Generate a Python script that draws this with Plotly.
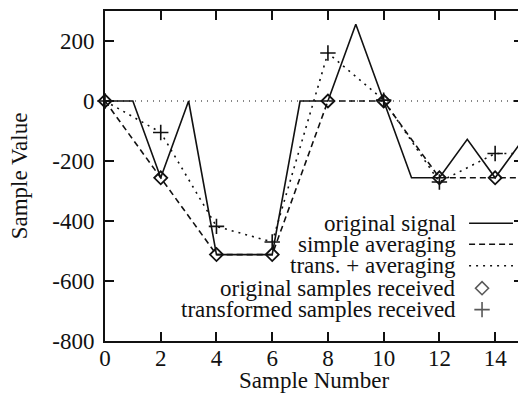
import plotly.graph_objects as go

# ---- data ----
signal_x = list(range(16))
signal_y = [0, 0, -256, 0, -512, -512, -512, 0, 0, 256, 0, -256, -256, -128, -256, -128]

recv_x = [0, 2, 4, 6, 8, 10, 12, 14]
orig_received = [0, -256, -512, -512, 0, 0, -256, -256]
trans_received = [0, -105, -418, -470, 160, 3, -270, -175]

avg_x = [0, 2, 4, 6, 8, 10, 12, 14, 15]
simple_avg = [0, -256, -512, -512, 0, 0, -256, -256, -256]
trans_avg = [0, -105, -418, -470, 160, 3, -270, -175, -175]

x_ticks = [0, 2, 4, 6, 8, 10, 12, 14]
y_ticks = [-800, -600, -400, -200, 0, 200]
y_tick_labels = ["-800", "-600", "-400", "-200", "0", "200"]

legend_labels = ["original signal", "simple averaging", "trans. + averaging",
                 "original samples received", "transformed samples received"]

FONT = "Liberation Serif, Times New Roman, serif"
FS = 23
BLACK = "#111"

fig = go.Figure()

# zero axis (dotted)
fig.add_shape(type="line", xref="x", yref="y", x0=0, x1=15, y0=0, y1=0,
              line=dict(color=BLACK, width=1, dash="1px,5px"), layer="below")

fig.add_trace(go.Scatter(x=signal_x, y=signal_y, mode="lines",
                         line=dict(color=BLACK, width=1.6), showlegend=False))
fig.add_trace(go.Scatter(x=avg_x, y=simple_avg, mode="lines",
                         line=dict(color=BLACK, width=1.6, dash="6px,4px"), showlegend=False))
fig.add_trace(go.Scatter(x=avg_x, y=trans_avg, mode="lines",
                         line=dict(color=BLACK, width=1.6, dash="2px,5px"), showlegend=False))
fig.add_trace(go.Scatter(x=recv_x, y=orig_received, mode="markers", cliponaxis=False,
                         marker=dict(symbol="diamond-open", size=10, color=BLACK,
                                     line=dict(width=1.8, color=BLACK)), showlegend=False))
fig.add_trace(go.Scatter(x=recv_x, y=trans_received, mode="markers", cliponaxis=False,
                         marker=dict(symbol="cross-thin-open", size=11, color=BLACK,
                                     line=dict(width=1.6, color=BLACK)), showlegend=False))

# ---- legend (text left, sample right, gnuplot-style) ----
row_y = [0.357, 0.293, 0.228, 0.160, 0.095]
text_x = 0.841
sample_x0, sample_x1 = 0.871, 0.976
sample_mid = 0.902
styles = [None, "6px,4px", "2px,5px"]
for i, lab in enumerate(legend_labels):
    fig.add_annotation(x=text_x, y=row_y[i], xref="paper", yref="paper", text=lab,
                       showarrow=False, xanchor="right", yanchor="middle", borderpad=0,
                       font=dict(family=FONT, size=FS, color=BLACK))
for i in range(3):
    fig.add_shape(type="line", xref="paper", yref="paper", x0=sample_x0, x1=sample_x1,
                  y0=row_y[i], y1=row_y[i],
                  line=dict(color=BLACK, width=1.6, dash=styles[i] or "solid"))
fig.add_trace(go.Scatter(x=[sample_mid, sample_mid], y=[row_y[3], row_y[4]], xaxis="x2", yaxis="y2",
                         mode="markers", showlegend=False, cliponaxis=False,
                         marker=dict(symbol=["diamond-open", "cross-thin-open"], size=[10, 11],
                                     color=BLACK, line=dict(width=1.6, color=BLACK))))

# axis titles
fig.add_annotation(x=0.5, y=-0.121, xref="paper", yref="paper", text="Sample Number",
                   showarrow=False, xanchor="center", yanchor="middle", borderpad=0,
                   font=dict(family=FONT, size=FS, color=BLACK))
fig.add_annotation(x=-0.205, y=0.5, xref="paper", yref="paper", text="Sample Value",
                   showarrow=False, textangle=-90, xanchor="center", yanchor="middle",
                   font=dict(family=FONT, size=FS, color=BLACK))

axis_common = dict(showline=True, linecolor=BLACK, linewidth=2, mirror="allticks",
                   ticks="inside", ticklen=9, tickwidth=1.5, tickcolor=BLACK,
                   showgrid=False, zeroline=False,
                   tickfont=dict(family=FONT, size=FS, color=BLACK))

# page body has an 8px default margin, so the figure is 8px smaller in each direction
fig.update_layout(
    width=518, height=389,
    margin=dict(l=97, r=1, t=2, b=56),
    paper_bgcolor="white", plot_bgcolor="white",
    font=dict(family=FONT, size=FS, color=BLACK),
    xaxis=dict(range=[0, 15], tickvals=x_ticks, ticklabelstandoff=-5, **axis_common),
    yaxis=dict(range=[-800, 300], tickvals=y_ticks, ticktext=y_tick_labels,
               ticklabelstandoff=4, **axis_common),
    xaxis2=dict(range=[0, 1], overlaying="x", visible=False),
    yaxis2=dict(range=[0, 1], overlaying="y", visible=False),
    showlegend=False,
)

fig.write_html("out.html")
